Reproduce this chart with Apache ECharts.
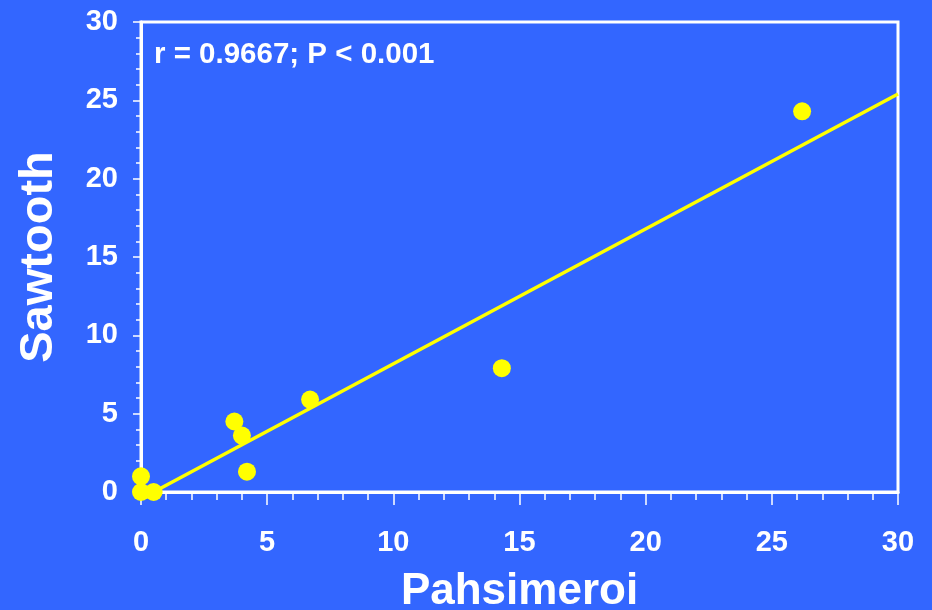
<!DOCTYPE html>
<html>
<head>
<meta charset="utf-8">
<script src="https://cdn.jsdelivr.net/npm/echarts@6/dist/echarts.min.js"></script>
<style>
html,body{margin:0;padding:0;background:#3366FF;}
#c{width:932px;height:610px;}
</style>
</head>
<body>
<div id="c"></div>
<script>
// Data
const pahsimeroi = [0, 0, 0.5, 3.7, 4.0, 4.2, 6.7, 14.3, 26.2];
const sawtooth   = [1.0, 0, 0, 4.5, 3.6, 1.3, 5.9, 7.9, 24.3];
const fitX = [0.5, 30];
const fitY = [0, 25.4];
const xTicks = [0, 5, 10, 15, 20, 25, 30];
const yTicks = [0, 5, 10, 15, 20, 25, 30];
const annotation = 'r = 0.9667; P < 0.001';
const xName = 'Pahsimeroi';
const yName = 'Sawtooth';

const FONT = '"Liberation Sans", Arial, sans-serif';
const chart = echarts.init(document.getElementById('c'), null, {renderer: 'canvas'});

const axisCommon = (minorLen, majorLen) => ({
  type: 'value',
  min: xTicks[0],
  max: xTicks[xTicks.length - 1],
  interval: 5,
  axisLine: {show: true, lineStyle: {color: '#fff', width: 3}},
  axisTick: {show: true, inside: false, length: majorLen, lineStyle: {color: '#fff', width: 1.5}},
  minorTick: {show: true, splitNumber: 5, length: minorLen, lineStyle: {color: '#fff', width: 1.5}},
  splitLine: {show: false},
  nameLocation: 'middle'
});

const xAxis = Object.assign(axisCommon(8, 13), {
  name: xName,
  nameGap: 78,
  nameTextStyle: {color: '#fff', fontFamily: FONT, fontWeight: 'bold', fontSize: 44},
  axisLabel: {color: '#fff', fontFamily: FONT, fontWeight: 'bold', fontSize: 29, margin: 36}
});
const yAxis = Object.assign(axisCommon(5, 8), {
  min: yTicks[0],
  max: yTicks[yTicks.length - 1],
  name: yName,
  nameGap: 78,
  nameRotate: 90,
  nameTextStyle: {color: '#fff', fontFamily: FONT, fontWeight: 'bold', fontSize: 47},
  axisLabel: {color: '#fff', fontFamily: FONT, fontWeight: 'bold', fontSize: 29, margin: 23}
});

chart.setOption({
  backgroundColor: '#3366FF',
  animation: false,
  grid: {left: 141, right: 34, top: 22, bottom: 118, show: true, borderColor: '#fff', borderWidth: 3, backgroundColor: 'transparent', containLabel: false, outerBoundsMode: 'none'},
  xAxis: xAxis,
  yAxis: yAxis,
  graphic: [{
    type: 'text',
    left: 154,
    top: 40,
    style: {text: annotation, fill: '#fff', font: 'bold 29.5px ' + FONT}
  }],
  series: [
    {
      type: 'line',
      data: fitX.map((x, i) => [x, fitY[i]]),
      showSymbol: false,
      lineStyle: {color: '#FFFF00', width: 3.5},
      z: 2
    },
    {
      type: 'scatter',
      data: pahsimeroi.map((x, i) => [x, sawtooth[i]]),
      symbolSize: 18,
      itemStyle: {color: '#FFFF00', opacity: 1},
      z: 3
    }
  ]
});
</script>
</body>
</html>
